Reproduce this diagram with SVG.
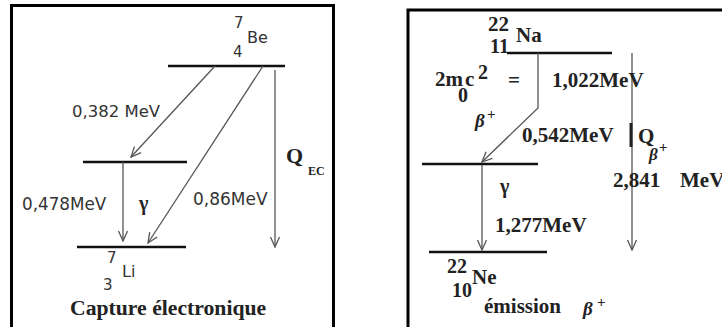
<svg xmlns="http://www.w3.org/2000/svg" width="722" height="327" viewBox="0 0 722 327">
<defs>
<style>
.frame{fill:none;stroke:#000;stroke-width:3}
.lvl{stroke:#111;stroke-width:2.5;fill:none}
.arr{stroke:#555;stroke-width:1.3;fill:none;marker-end:url(#ah)}
.sans{font-family:"DejaVu Sans","Liberation Sans",sans-serif;fill:#333}
.serif{font-family:"Liberation Serif","Times New Roman",serif;font-weight:bold;fill:#222}
.ital{font-style:italic}
</style>
<marker id="ah" markerUnits="userSpaceOnUse" markerWidth="12" markerHeight="12" viewBox="0 0 12 12" refX="11" refY="6" orient="auto">
<path d="M1,1.5 L11,6 L1,10.5" fill="none" stroke="#555" stroke-width="1.3"/>
</marker>
</defs>
<rect width="722" height="327" fill="#fff"/>

<!-- Left panel -->
<rect class="frame" x="11.5" y="5.5" width="322" height="330"/>
<g id="be7">
<line class="lvl" x1="168" y1="66" x2="285" y2="66"/>
<text class="sans" x="234" y="28" font-size="15">7</text>
<text class="sans" x="247" y="43" font-size="16">Be</text>
<text class="sans" x="233" y="57" font-size="15">4</text>
</g>
<g id="li7excited">
<line class="lvl" x1="83" y1="162" x2="187" y2="162"/>
</g>
<g id="li7">
<line class="lvl" x1="77" y1="247" x2="186" y2="247"/>
<text class="sans" x="107" y="263" font-size="15">7</text>
<text class="sans" x="122" y="277" font-size="16">Li</text>
<text class="sans" x="103" y="290" font-size="15">3</text>
</g>
<g id="left-connectors">
<line class="arr" x1="215" y1="66" x2="131" y2="157"/>
<line class="arr" x1="263" y1="66" x2="148" y2="243"/>
<line class="arr" x1="123" y1="162" x2="123" y2="241"/>
<line class="arr" x1="275" y1="70" x2="275" y2="247"/>
</g>
<g id="left-labels">
<text class="sans" x="72" y="117" font-size="16.5">0,382 MeV</text>
<text class="sans" x="22" y="210" font-size="16.8">0,478MeV</text>
<text class="serif" x="139" y="210" font-size="20">γ</text>
<text class="sans" x="193" y="205" font-size="17">0,86MeV</text>
<text class="serif" x="286" y="163" font-size="22">Q</text>
<text class="serif" x="308" y="175" font-size="12">EC</text>
<text class="serif" x="70" y="315" font-size="21.7">Capture électronique</text>
</g>

<!-- Right panel -->
<rect class="frame" x="408" y="10" width="330" height="330"/>
<g id="na22">
<line class="lvl" x1="507" y1="53" x2="612" y2="53"/>
<text class="serif" x="488" y="31" font-size="21">22</text>
<text class="serif" x="516" y="42" font-size="21">Na</text>
<text class="serif" x="490" y="53" font-size="20">11</text>
</g>
<g id="ne22excited">
<line class="lvl" x1="422" y1="164" x2="538" y2="164"/>
</g>
<g id="ne22">
<line class="lvl" x1="429" y1="252" x2="547" y2="252"/>
<text class="serif" x="447" y="273" font-size="20">22</text>
<text class="serif" x="472" y="284" font-size="21">Ne</text>
<text class="serif" x="452" y="297" font-size="20">10</text>
</g>
<g id="right-connectors">
<polyline class="arr" points="538,53 538,108 482,162"/>
<line class="arr" x1="482" y1="165" x2="482" y2="250"/>
<line class="arr" x1="632" y1="53" x2="632" y2="250"/>
<line x1="631" y1="123" x2="631" y2="147" stroke="#222" stroke-width="3"/>
</g>
<g id="right-labels">
<text class="serif" x="435" y="86" font-size="21">2m</text>
<text class="serif" x="458" y="102" font-size="20">0</text>
<text class="serif" x="465" y="86" font-size="21">c</text>
<text class="serif" x="478" y="79" font-size="20">2</text>
<text class="serif" x="508" y="87" font-size="21">=</text>
<text class="serif" x="552" y="87" font-size="21">1,022MeV</text>
<text class="serif ital" x="475" y="127" font-size="19">β</text>
<text class="serif" x="487" y="119" font-size="15">+</text>
<text class="serif" x="522" y="142" font-size="21">0,542MeV</text>
<text class="serif" x="638" y="143" font-size="21">Q</text>
<text class="serif ital" x="649" y="160" font-size="17">β</text>
<text class="serif" x="659" y="152" font-size="15">+</text>
<text class="serif" x="500" y="193" font-size="20">γ</text>
<text class="serif" x="613" y="187" font-size="21">2,841</text>
<text class="serif" x="680" y="187" font-size="21">MeV</text>
<text class="serif" x="495" y="232" font-size="21">1,277MeV</text>
<text class="serif" x="484" y="313" font-size="21">émission</text>
<text class="serif ital" x="583" y="315" font-size="19">β</text>
<text class="serif" x="597" y="307" font-size="15">+</text>
</g>
</svg>
